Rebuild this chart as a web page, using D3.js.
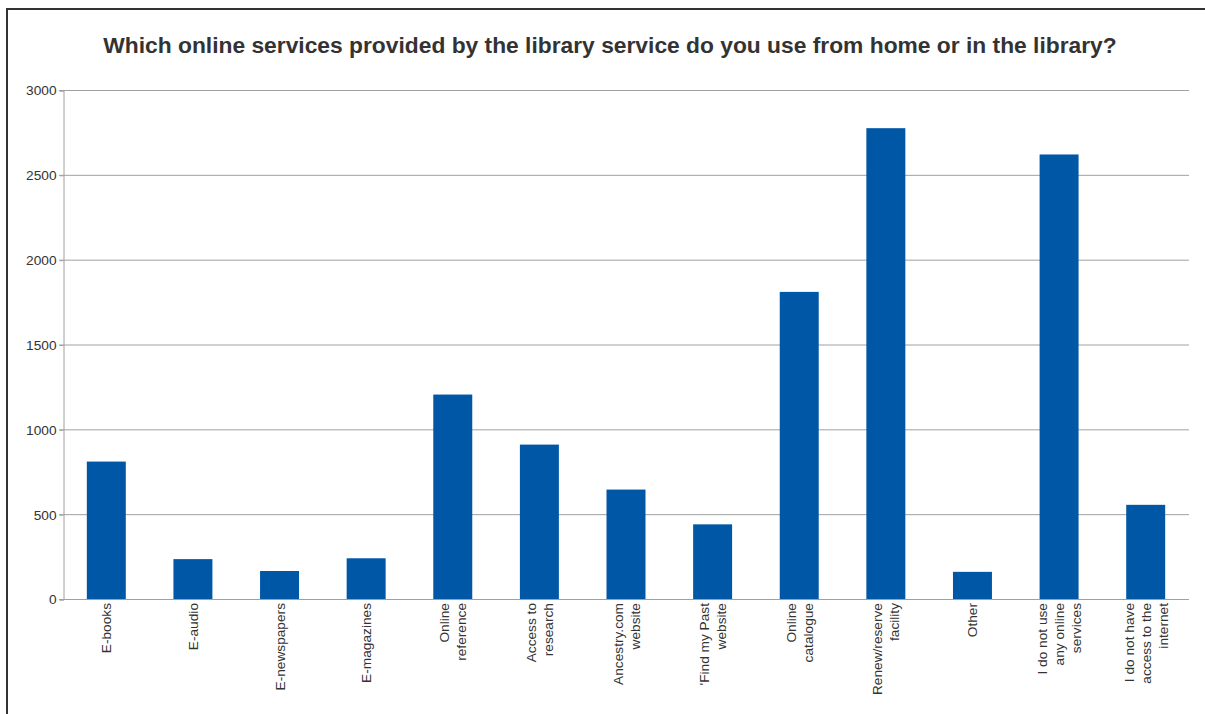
<!DOCTYPE html>
<html>
<head>
<meta charset="utf-8">
<script src="https://cdn.jsdelivr.net/npm/d3@7"></script>
<style>
  body { margin: 0; background: #fff; }
  text { font-family: "Liberation Sans", Arial, sans-serif; }
</style>
</head>
<body>
<script>
// datos
var categorias = [
  ["E-books"],
  ["E-audio"],
  ["E-newspapers"],
  ["E-magazines"],
  ["Online", "reference"],
  ["Access to", "research"],
  ["Ancestry.com", "website"],
  ["'Find my Past", "website"],
  ["Online", "catalogue"],
  ["Renew/reserve", "facility"],
  ["Other"],
  ["I do not use", "any online", "services"],
  ["I do not have", "access to the", "internet"]
];
var valores = [810, 235, 165, 240, 1205, 910, 645, 440, 1810, 2775, 160, 2620, 555];
var ticksY = [0, 500, 1000, 1500, 2000, 2500, 3000];
var titulo = "Which online services provided by the library service do you use from home or in the library?";

var width = 1205, height = 714;
var margin = { top: 90, bottom: 115, left: 63, right: 16 };

var svg = d3.select("body").append("svg")
  .attr("width", width)
  .attr("height", height);

// marco
svg.append("path")
  .attr("d", "M7," + height + " V9 H" + width)
  .attr("fill", "none")
  .attr("stroke", "#333")
  .attr("stroke-width", 2);

var escalaX = d3.scaleBand()
  .domain(d3.range(categorias.length))
  .range([margin.left, width - margin.right])
  .paddingInner(0.55)
  .paddingOuter(0.275);

var escalaY = d3.scaleLinear()
  .domain([0, 3000])
  .range([height - margin.bottom, margin.top]);

// título
svg.append("text")
  .attr("x", 610)
  .attr("y", 53)
  .attr("text-anchor", "middle")
  .style("font-size", "22.8px")
  .style("font-weight", "bold")
  .attr("fill", "#333")
  .text(titulo);

// rejilla
svg.append("g")
  .selectAll("line")
  .data(ticksY)
  .join("line")
  .attr("x1", margin.left - 4)
  .attr("x2", width - margin.right)
  .attr("y1", d => escalaY(d) + 0.5)
  .attr("y2", d => escalaY(d) + 0.5)
  .attr("stroke", "#a0a0a0")
  .attr("stroke-width", 1);

// eje Y
var ejeY = d3.axisLeft(escalaY).tickValues(ticksY).tickFormat(d3.format("d")).tickSize(4).tickPadding(3);
var gY = svg.append("g")
  .attr("transform", "translate(" + (margin.left + 0.5) + ",0.5)")
  .call(ejeY);
gY.selectAll("path, line").attr("stroke", "#a0a0a0");
gY.selectAll("text")
  .attr("fill", "#333")
  .style("font-size", "13.7px")
  .style("font-family", "'Liberation Sans', Arial, sans-serif");

// barras
svg.append("g")
  .selectAll("rect")
  .data(valores)
  .join("rect")
  .attr("x", (d, i) => escalaX(i))
  .attr("width", escalaX.bandwidth())
  .attr("y", d => escalaY(d))
  .attr("height", d => escalaY(0) - escalaY(d))
  .attr("fill", "#0057a6");

// etiquetas del eje X (giradas)
var lineH = 17;
var y0 = escalaY(0) + 4;
var gX = svg.append("g");
categorias.forEach(function (lineas, i) {
  var cx = escalaX(i) + escalaX.bandwidth() / 2;
  var n = lineas.length;
  lineas.forEach(function (t, j) {
    var off = (j - (n - 1) / 2) * lineH;
    gX.append("text")
      .attr("transform", "translate(" + (cx + off + 5) + "," + y0 + ") rotate(-90)")
      .attr("text-anchor", "end")
      .attr("fill", "#333")
      .style("font-size", "13.7px")
      .text(t);
  });
});
</script>
</body>
</html>
